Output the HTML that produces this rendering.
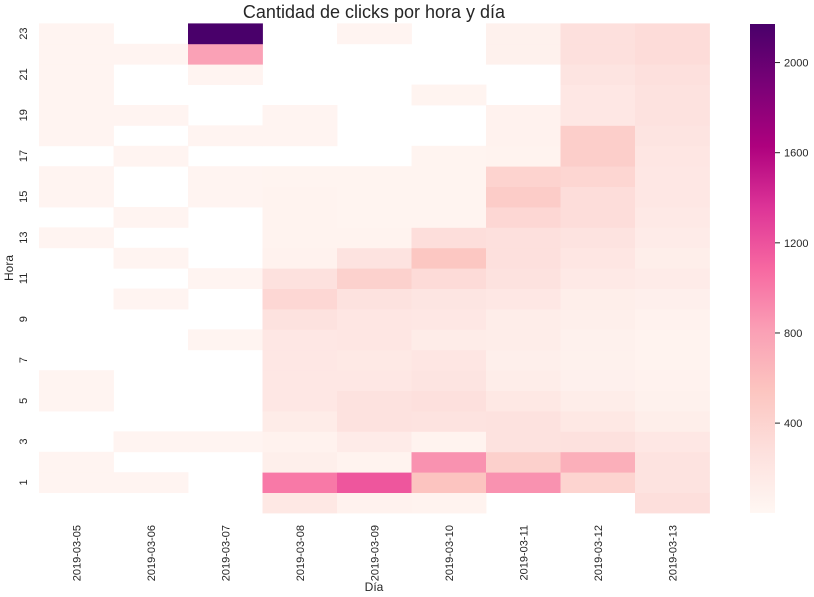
<!DOCTYPE html>
<html><head><meta charset="utf-8">
<style>
body{margin:0;background:#fff;}
svg{display:block;font-family:"Liberation Sans",Arial,sans-serif;}
</style></head>
<body>
<svg id="chart" width="814" height="597" viewBox="0 0 814 597">
<defs>
<linearGradient id="cbgrad" x1="0" y1="1" x2="0" y2="0">
<stop offset="0" stop-color="#fff7f3"/><stop offset="0.125" stop-color="#fde0dd"/>
<stop offset="0.25" stop-color="#fcc5c0"/><stop offset="0.375" stop-color="#fa9fb5"/>
<stop offset="0.5" stop-color="#f768a1"/><stop offset="0.625" stop-color="#dd3497"/>
<stop offset="0.75" stop-color="#ae017e"/><stop offset="0.875" stop-color="#7a0177"/>
<stop offset="1" stop-color="#49006a"/>
</linearGradient>
</defs>
<text x="374" y="18" font-size="18" text-anchor="middle" fill="#262626">Cantidad de clicks por hora y día</text>
<text transform="translate(13,268) rotate(-90)" font-size="12" text-anchor="middle" fill="#262626">Hora</text>
<text x="374" y="591" font-size="12" text-anchor="middle" fill="#262626">Día</text>
<g id="cells"></g>
<g id="xticks"></g>
<g id="yticks"></g>
<rect x="750" y="24" width="25" height="489" fill="url(#cbgrad)"/>
<g id="cbticks"></g>
</svg>
<script>
const days = ["2019-03-05","2019-03-06","2019-03-07","2019-03-08","2019-03-09","2019-03-10","2019-03-11","2019-03-12","2019-03-13"];
const hours = [0,1,2,3,4,5,6,7,8,9,10,11,12,13,14,15,16,17,18,19,20,21,22,23];
// values per day, index = hour 0..23 (null = no data)
const d0305 = [null,30,30,null,null,30,30,null,null,null,null,null,null,30,null,30,30,null,30,30,30,30,30,30];
const d0306 = [null,30,null,30,null,null,null,null,null,null,30,null,30,null,30,null,null,30,null,30,null,null,30,null];
const d0307 = [null,null,null,30,null,null,null,null,30,null,null,30,null,null,null,30,30,null,30,null,null,30,800,2180];
const d0308 = [180,1000,100,60,130,190,190,190,190,250,360,260,60,50,50,50,40,null,30,30,null,null,null,null];
const d0309 = [60,1180,50,140,250,250,190,170,200,200,250,420,230,50,40,40,40,null,null,null,null,null,null,30];
const d0310 = [50,550,880,50,240,270,220,200,130,190,210,320,520,290,40,40,40,40,null,null,40,null,null,null];
const d0311 = [null,880,430,250,250,180,120,100,120,120,190,250,270,270,360,470,400,50,60,60,null,null,70,70];
const d0312 = [null,390,700,260,180,120,80,70,70,100,110,160,200,230,300,300,370,450,450,190,190,220,270,270];
const d0313 = [280,240,240,190,110,70,60,50,50,60,90,140,110,140,160,190,190,200,220,250,250,270,310,310];
const series = [d0305,d0306,d0307,d0308,d0309,d0310,d0311,d0312,d0313];
const cbTicks = [400,800,1200,1600,2000];
const vmin = 0, vmax = 2170;

const NS = "http://www.w3.org/2000/svg";
const L = 39, R = 709.5, T = 23.4, B = 513;
const cw = (R - L) / days.length, rh = (B - T) / hours.length;
const xPos = i => L + i * cw;
const yPos = h => B - (h + 1) * rh;
const cbY = v => 513.25 - (v - vmin) * (489 / (vmax - vmin));
const stops = ["#fff7f3","#fde0dd","#fcc5c0","#fa9fb5","#f768a1","#dd3497","#ae017e","#7a0177","#49006a"];
function color(v){
  let t = Math.max(0, Math.min(1, (v - vmin) / (vmax - vmin))) * (stops.length - 1);
  let i = Math.min(Math.floor(t), stops.length - 2), f = t - i;
  const a = stops[i], b = stops[i+1];
  const c = k => Math.round(parseInt(a.substr(k,2),16)*(1-f) + parseInt(b.substr(k,2),16)*f);
  return `rgb(${c(1)},${c(3)},${c(5)})`;
}
function mk(tag, attrs, parent){
  const e = document.createElementNS(NS, tag);
  for (const k in attrs) e.setAttribute(k, attrs[k]);
  parent.appendChild(e); return e;
}
const cells = document.getElementById("cells");
series.forEach((vals, i) => {
  vals.forEach((v, h) => {
    if (v === null) return;
    const r = mk("rect", {x: xPos(i), y: yPos(h), width: cw + 0.4, height: rh + 0.4, fill: color(v)}, cells);
    
    
  });
});
const xt = document.getElementById("xticks");
days.forEach((d, i) => {
  const cx = xPos(i) + cw / 2;
  const t = mk("text", {transform: `translate(${cx + 4},525) rotate(-90)`, "font-size": 11, "text-anchor": "end", fill: "#262626"}, xt);
  t.textContent = d;
  
  
});
const yt = document.getElementById("yticks");
hours.filter(h => h % 2 === 1).forEach(h => {
  const cy = yPos(h) + rh / 2;
  const t = mk("text", {transform: `translate(27,${cy}) rotate(-90)`, "font-size": 11, "text-anchor": "middle", fill: "#262626"}, yt);
  t.textContent = h;
  
  
});
const cbt = document.getElementById("cbticks");
cbTicks.forEach(v => {
  const y = cbY(v);
  const l = mk("line", {x1: 775, x2: 780, y1: y, y2: y, stroke: "#262626", "stroke-width": 1}, cbt);
  
  
  const t = mk("text", {x: 784, y: y + 4, "font-size": 11, fill: "#262626"}, cbt);
  t.textContent = v;
  
  
});
</script>
</body></html>
